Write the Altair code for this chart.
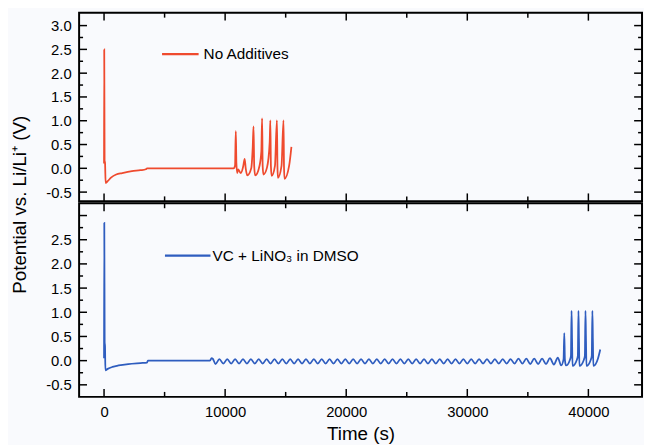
import altair as alt
import pandas as pd

# ---------------- data ----------------
red_t = [0, 15, 45, 80, 130, 300, 600, 1000, 1500, 2300, 3000, 3450, 3550, 10700,
         10820, 10880, 10930, 11000, 11068, 11286, 11500, 11612, 11700, 11830, 12156,
         12280, 12346, 12400, 12482, 12836, 12990, 13053, 13100, 13162, 13461, 13680,
         13733, 13780, 13842, 14114, 14277, 14320, 14358, 14657, 14820, 14860, 14902,
         15283, 15473]
red_v = [0.10, 2.50, 0.15, 0.12, -0.31, -0.27, -0.19, -0.13, -0.10, -0.06, -0.04, -0.02, 0.0, 0.0,
         0.06, 0.78, 0.10, -0.10, -0.02, -0.10, 0.05, 0.20, 0.0, -0.15, 0.0,
         0.45, 0.88, 0.05, -0.15, 0.05, 0.35, 1.05, 0.05, -0.13, 0.02, 0.55,
         1.01, 0.05, -0.16, 0.05, 1.01, 0.05, -0.20, 0.05, 1.01, 0.05, -0.22,
         0.05, 0.45]

blue_t = [0, 20, 50, 80, 110, 300, 700, 1200, 2000, 3000, 3550, 3620, 8750, 8880, 8980,
          9200, 9525, 9850, 10175, 10500, 10825, 11150, 11475, 11800, 12125, 12450, 12775,
          13100, 13425, 13750, 14075, 14400, 14725, 15050, 15375, 15700, 16025, 16350, 16675,
          17000, 17325, 17650, 17975, 18300, 18625, 18950, 19275, 19600, 19925, 20250, 20575,
          20900, 21225, 21550, 21875, 22200, 22525, 22850, 23175, 23500, 23825, 24150, 24475,
          24800, 25125, 25450, 25775, 26100, 26425, 26750, 27075, 27400, 27725, 28050, 28375,
          28700, 29025, 29350, 29675, 30000, 30325, 30650, 30975, 31300, 31625, 31950, 32275,
          32600, 32925, 33250, 33575, 33900, 34225, 34550, 34875, 35200, 35525, 35850, 36175,
          36500, 36825, 37150, 37475,
          37750, 37950, 38010, 38060, 38150, 38480, 38560, 38610, 38650, 38690,
          39050, 39130, 39180, 39220, 39260, 39630, 39710, 39760, 39800, 39840,
          40200, 40280, 40330, 40370, 40410, 40800, 40980]
blue_v = [0.05, 2.85, 0.38, 0.30, -0.20, -0.17, -0.13, -0.10, -0.07, -0.05, -0.04, 0.0, 0.0, 0.05, 0.04,
          -0.07, 0.03, -0.06, 0.03, -0.06, 0.03, -0.06, 0.03, -0.06, 0.03, -0.06, 0.03,
          -0.06, 0.03, -0.06, 0.03, -0.06, 0.03, -0.06, 0.03, -0.06, 0.03, -0.06, 0.03,
          -0.06, 0.03, -0.06, 0.03, -0.06, 0.03, -0.06, 0.03, -0.06, 0.03, -0.06, 0.03,
          -0.06, 0.03, -0.06, 0.03, -0.06, 0.03, -0.06, 0.03, -0.06, 0.03, -0.06, 0.03,
          -0.06, 0.03, -0.06, 0.03, -0.06, 0.03, -0.06, 0.03, -0.06, 0.03, -0.06, 0.03,
          -0.06, 0.03, -0.06, 0.03, -0.06, 0.03, -0.06, 0.03, -0.06, 0.03, -0.06, 0.03,
          -0.06, 0.03, -0.06, 0.03, -0.06, 0.04, -0.06, 0.04, -0.07, 0.04, -0.07, 0.04,
          -0.07, 0.05, -0.08, 0.06,
          -0.10, 0.03, 0.57, 0.02, -0.10, 0.02, 0.10, 1.03, 0.45, -0.11,
          0.02, 0.10, 1.03, 0.45, -0.11, 0.02, 0.10, 1.03, 0.45, -0.11,
          0.02, 0.10, 1.03, 0.45, -0.11, 0.05, 0.23]

x_major = [0, 10000, 20000, 30000, 40000]
x_minor = [5000, 15000, 25000, 35000]
top_y_labels = [-0.5, 0.0, 0.5, 1.0, 1.5, 2.0, 2.5, 3.0]
top_y_minor = [-0.25, 0.25, 0.75, 1.25, 1.75, 2.25, 2.75]
bot_y_labels = [-0.5, 0.0, 0.5, 1.0, 1.5, 2.0, 2.5]
bot_y_major = [-0.5, 0.0, 0.5, 1.0, 1.5, 2.0, 2.5, 3.0]
bot_y_minor = [-0.25, 0.25, 0.75, 1.25, 1.75, 2.25, 2.75]

top_legend = "No Additives"
bot_legend = "VC + LiNO\u2083 in DMSO"
y_title = "Potential vs. Li/Li\u207a (V)"
x_title = "Time (s)"

# ---------------- styling ----------------
FONT = "Liberation Sans"
W, H1, H2 = 570, 191, 196
XDOM = [-2060, 44430]
TOP_YDOM = [-0.694, 3.271]
BOT_YDOM = [-0.749, 3.253]
RED = "#ef4a2e"
BLUE = "#2f5dbf"
LBL = "replace(format(datum.value, '.1f'), '\u2212', '-')"


def xenc(axis):
    return alt.X("t:Q", scale=alt.Scale(domain=XDOM, nice=False, zero=False), axis=axis)


def yenc(dom, axis):
    return alt.Y("v:Q", scale=alt.Scale(domain=dom, nice=False, zero=False), axis=axis)


def panel(t, v, color, H, ydom, yaxis, xaxis, ymaj, ymin, leg_t, leg_v, leg_text):
    X = lambda: xenc(xaxis)
    Y = lambda: yenc(ydom, yaxis)
    layers = []
    layers.append(
        alt.Chart(pd.DataFrame({"t": t, "v": v}))
        .mark_line(color=color, strokeWidth=1.8, interpolate="monotone")
        .encode(x=X(), y=Y())
    )
    # x ticks (inward, top and bottom)
    for vals, ln in ((x_major, 8), (x_minor, 5)):
        d = pd.DataFrame({"t": vals})
        layers.append(alt.Chart(d).mark_rule(color="black", strokeWidth=1.5)
                      .encode(x=X(), y=alt.value(0), y2=alt.value(ln)))
        layers.append(alt.Chart(d).mark_rule(color="black", strokeWidth=1.5)
                      .encode(x=X(), y=alt.value(H), y2=alt.value(H - ln)))
    # y ticks (inward, left and right)
    for vals, ln in ((ymaj, 8), (ymin, 4)):
        d = pd.DataFrame({"v": vals})
        layers.append(alt.Chart(d).mark_rule(color="black", strokeWidth=1.5)
                      .encode(y=Y(), x=alt.value(0), x2=alt.value(ln)))
        layers.append(alt.Chart(d).mark_rule(color="black", strokeWidth=1.5)
                      .encode(y=Y(), x=alt.value(W), x2=alt.value(W - ln)))
    # legend sample
    layers.append(
        alt.Chart(pd.DataFrame({"t": leg_t[:2], "v": [leg_v, leg_v]}))
        .mark_line(color=color, strokeWidth=2.2)
        .encode(x=X(), y=Y())
    )
    layers.append(
        alt.Chart(pd.DataFrame({"t": [leg_t[2]], "v": [leg_v], "label": [leg_text]}))
        .mark_text(align="left", baseline="middle", fontSize=15.5, font=FONT, color="black")
        .encode(x=X(), y=Y(), text="label:N")
    )
    return alt.layer(*layers).properties(width=W, height=H)


top_yaxis = alt.Axis(values=top_y_labels, labelExpr=LBL, labelFontSize=15, labelFont=FONT,
                     labelColor="black", labelPadding=8, ticks=False, domain=False, grid=False,
                     title=y_title, titleFont=FONT, titleFontSize=19, titleFontWeight="normal",
                     titleColor="black", titleX=-60, titleY=H1 + 3, titleAngle=270,
                     titleAlign="center", titleBaseline="middle")
bot_yaxis = alt.Axis(values=bot_y_labels, labelExpr=LBL, labelFontSize=15, labelFont=FONT,
                     labelColor="black", labelPadding=8, ticks=False, domain=False, grid=False,
                     title=None)
bot_xaxis = alt.Axis(values=x_major, format="d", labelFontSize=15, labelFont=FONT,
                     labelColor="black", labelPadding=8, ticks=False, domain=False, grid=False,
                     title=x_title, titleFont=FONT, titleFontSize=19, titleFontWeight="normal",
                     titleColor="black", titlePadding=5)

top = panel(red_t, red_v, RED, H1, TOP_YDOM, top_yaxis, None,
            top_y_labels, top_y_minor, [4790, 7810, 8220], 2.40, top_legend)
bottom = panel(blue_t, blue_v, BLUE, H2, BOT_YDOM, bot_yaxis, bot_xaxis,
               bot_y_major, bot_y_minor, [5030, 8790, 8960], 2.17, bot_legend)

chart = (
    alt.vconcat(top, bottom, spacing=2, bounds="flush")
    .properties(padding={"left": 2, "top": 0, "right": 0, "bottom": 0})
    .configure(background="#f9fafd")
    .configure_view(stroke="black", strokeWidth=2)
)

chart.save("out.html", embed_options={"renderer": "svg", "actions": False})
